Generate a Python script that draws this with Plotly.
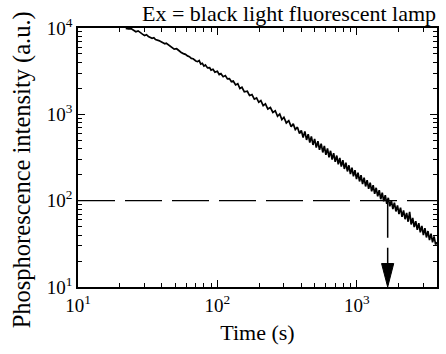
import plotly.graph_objects as go

# ---- data ----
time_s = [22, 23, 24, 25, 26, 27, 28, 29, 30, 31, 32, 33, 34, 35, 36, 38, 40, 42, 43, 45,
          47, 49, 51, 53, 55, 57, 59, 61, 63, 65, 67, 70, 72,
          74, 76, 78, 80, 82, 85, 88, 90, 93, 96, 100, 103, 106, 110, 114, 118, 122, 126,
          130, 135, 140, 145, 150, 156, 164, 170, 177, 184, 191, 198, 205, 213, 221, 230,
          240, 250, 260, 270, 280, 290, 300, 312, 325, 338, 350, 362, 375, 388, 400,
          412, 424, 436, 448, 460, 472, 485, 498, 512, 526, 540, 555, 570, 585, 600, 616,
          632, 648, 665, 682, 700, 718, 736, 755, 774, 794, 814, 835, 856, 878, 900, 923,
          946, 970, 995, 1020, 1046, 1072, 1100, 1128, 1156, 1186, 1216, 1247, 1278, 1310,
          1343, 1377, 1412, 1448, 1485, 1522, 1560, 1600, 1640, 1682, 1725, 1769, 1814,
          1860, 1908, 1957, 2007, 2058, 2110, 2164, 2219, 2276, 2334, 2393, 2454, 2517,
          2581, 2647, 2715, 2784, 2855, 2928, 3003, 3080, 3158, 3239, 3322, 3407, 3494,
          3583, 3675, 3760]
intensity = [9900, 9750, 9850, 9350, 9050, 9250, 8750, 8500, 8200, 8350, 7950, 7750, 7600,
             7700, 7350, 7150, 6850, 6550, 6650, 6300, 6050, 5700, 5750, 5400, 5200, 5050,
             4950, 4750, 4650, 4450, 4400, 4150, 4080,
             4200, 3820, 3900, 3620, 3730, 3450, 3480, 3250, 3330, 3080, 3150, 2890, 2960,
             2730, 2810, 2570, 2590, 2390, 2430, 2190, 2260, 1990, 2060, 1820, 1850, 1650,
             1690, 1500, 1550, 1380, 1440, 1260, 1320, 1150, 1200, 1050, 1100, 950, 1010,
             870, 925, 795, 845, 720, 775, 665, 710, 600, 650,
             540, 635, 505, 590, 470, 555, 442, 520, 412, 488, 388, 458, 362, 430, 340, 402,
             318, 378, 300, 355, 282, 333, 264, 313, 248, 295, 233, 275, 218, 257, 203, 241,
             191, 225, 178, 211, 167, 197, 156, 185, 146, 173, 137, 162, 128, 151,
             120, 141, 112, 132, 104, 124, 98, 116, 92, 108, 86, 101, 80,
             95, 75, 88, 70, 83, 65, 77, 61, 72, 57, 74, 53, 63,
             49.5, 58, 46, 55, 43, 51, 40, 48, 37.5, 44.5, 35, 41.5, 33,
             38.5, 31, 33]

threshold_level = 100        # dashed horizontal reference level (a.u.)
threshold_time = 1665        # time at which the decay reaches the threshold (s)
arrow_head_x = [1505, 1840, 1665, 1505]
arrow_head_y = [18.7, 18.7, 10, 18.7]

x_tickvals = [10, 100, 1000]
x_ticktext = ["10<sup>1</sup>", "10<sup>2</sup>", "10<sup>3</sup>"]
y_tickvals = [10, 100, 1000, 10000]
y_ticktext = ["10<sup>1</sup>", "10<sup>2</sup>", "10<sup>3</sup>", "10<sup>4</sup>"]
x_minor = [20, 30, 40, 50, 60, 70, 80, 90, 200, 300, 400, 500, 600, 700, 800, 900, 2000, 3000]
y_minor = [20, 30, 40, 50, 60, 70, 80, 90, 200, 300, 400, 500, 600, 700, 800, 900,
           2000, 3000, 4000, 5000, 6000, 7000, 8000, 9000]

x_range = [10, 3760]
y_range = [10, 10000]

FONT = "Times New Roman"
TITLE_FONT = "Liberation Serif"

fig = go.Figure()

fig.add_trace(go.Scatter(x=x_range, y=[threshold_level, threshold_level], mode="lines",
                         line=dict(color="black", width=1.2, dash="37px,10px"),
                         hoverinfo="skip", showlegend=False))
fig.add_trace(go.Scatter(x=[threshold_time, threshold_time], y=[threshold_level, y_range[0]],
                         mode="lines", line=dict(color="black", width=1.5, dash="37px,10px"),
                         hoverinfo="skip", showlegend=False))
fig.add_trace(go.Scatter(x=time_s, y=intensity, mode="lines",
                         line=dict(color="black", width=1.7), showlegend=False))
fig.add_trace(go.Scatter(x=arrow_head_x, y=arrow_head_y, mode="lines", fill="toself",
                         fillcolor="black", line=dict(color="black", width=1),
                         hoverinfo="skip", showlegend=False))

axis_common = dict(type="log", showgrid=False, zeroline=False, showline=True,
                   linecolor="black", linewidth=1.5, mirror="ticks",
                   ticks="inside", ticklen=7, tickwidth=1.2, tickcolor="black",
                   tickfont=dict(family=FONT, size=19, color="black"))

fig.update_xaxes(**axis_common, range=[1, 3.5752],
                 tickmode="array", tickvals=x_tickvals, ticktext=x_ticktext,
                 minor=dict(tickmode="array", tickvals=x_minor, ticks="inside",
                            ticklen=4, tickwidth=1, tickcolor="black"),
                 title=dict(text="Time (s)", font=dict(family=FONT, size=22, color="black"),
                            standoff=10))
fig.update_yaxes(**axis_common, range=[1, 4],
                 tickmode="array", tickvals=y_tickvals, ticktext=y_ticktext,
                 minor=dict(tickmode="array", tickvals=y_minor, ticks="inside",
                            ticklen=4, tickwidth=1, tickcolor="black"))

fig.add_annotation(text="Phosphorescence intensity (a.u.)", textangle=-90,
                   xref="paper", yref="paper", x=-0.155, y=0.452,
                   xanchor="center", yanchor="middle", showarrow=False,
                   font=dict(family=FONT, size=24.5, color="black"))

fig.add_annotation(text="Ex = black light fluorescent lamp", xref="paper", yref="paper",
                   x=1.003, y=1.0, xanchor="right", yanchor="bottom", yshift=0,
                   showarrow=False, font=dict(family=TITLE_FONT, size=22, color="black"))

fig.update_layout(
    font=dict(family=FONT, color="black"),
    width=446, height=354, margin=dict(l=78, r=7, t=28, b=67),
    plot_bgcolor="white", paper_bgcolor="white")

fig.write_html("out.html")
